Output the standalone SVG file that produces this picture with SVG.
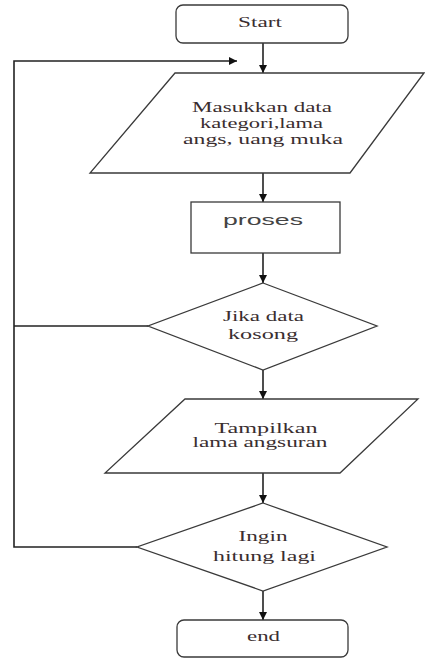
<svg xmlns="http://www.w3.org/2000/svg" width="425" height="659" viewBox="0 0 425 659">
<style>
.s{fill:#fff;stroke:#3a3a3a;stroke-width:1.3}
.c{fill:none;stroke:#222;stroke-width:1.6}
.t{font-family:'Liberation Serif','DejaVu Serif',serif;font-size:14px;fill:#3a2e30;text-anchor:middle}
.p{font-family:'Liberation Sans','DejaVu Sans',sans-serif;font-size:15px;fill:#444;text-anchor:middle}
</style>
<defs>
<marker id="a" viewBox="0 0 10 10" refX="10" refY="5" markerWidth="8" markerHeight="8" markerUnits="userSpaceOnUse" orient="auto">
<path d="M0,0L10,5L0,10z" fill="#111"/>
</marker>
</defs>
<g id="connectors">
<line class="c" x1="263" y1="43" x2="263" y2="73" marker-end="url(#a)"/>
<line class="c" x1="263" y1="173" x2="263" y2="202" marker-end="url(#a)"/>
<line class="c" x1="263" y1="253" x2="263" y2="283" marker-end="url(#a)"/>
<line class="c" x1="263" y1="370" x2="263" y2="399" marker-end="url(#a)"/>
<line class="c" x1="263" y1="473" x2="263" y2="503" marker-end="url(#a)"/>
<line class="c" x1="263" y1="591" x2="263" y2="620" marker-end="url(#a)"/>
<polyline class="c" points="137,547 14,547 14,61 237,61" marker-end="url(#a)"/>
<line class="c" x1="148" y1="326" x2="14" y2="326"/>
</g>
<g id="start">
<rect class="s" x="176" y="5" width="172" height="38" rx="7"/>
<text class="t" x="260" y="27" textLength="44" lengthAdjust="spacingAndGlyphs">Start</text>
</g>
<g id="input">
<polygon class="s" points="175,73 424,73 350,173 90,173"/>
<text class="t" x="262" y="112" textLength="140" lengthAdjust="spacingAndGlyphs">Masukkan data</text>
<text class="t" x="261.5" y="128" textLength="123" lengthAdjust="spacingAndGlyphs">kategori,lama</text>
<text class="t" x="263" y="144" textLength="160" lengthAdjust="spacingAndGlyphs">angs, uang muka</text>
</g>
<g id="proses">
<rect class="s" x="191" y="202" width="149" height="51"/>
<text class="p" x="263" y="225" textLength="80" lengthAdjust="spacingAndGlyphs">proses</text>
</g>
<g id="cek">
<polygon class="s" points="263,283 377,326 263,370 148,326"/>
<text class="t" x="263.5" y="321" textLength="81" lengthAdjust="spacingAndGlyphs">Jika data</text>
<text class="t" x="263" y="339" textLength="70" lengthAdjust="spacingAndGlyphs">kosong</text>
</g>
<g id="tampil">
<polygon class="s" points="185,399 418,399 340,473 105,473"/>
<text class="t" x="266" y="433" textLength="103" lengthAdjust="spacingAndGlyphs">Tampilkan</text>
<text class="t" x="260" y="447" textLength="135" lengthAdjust="spacingAndGlyphs">lama angsuran</text>
</g>
<g id="ulang">
<polygon class="s" points="263,503 387,547 263,591 137,547"/>
<text class="t" x="263" y="541" textLength="49" lengthAdjust="spacingAndGlyphs">Ingin</text>
<text class="t" x="264.5" y="561" textLength="103" lengthAdjust="spacingAndGlyphs">hitung lagi</text>
</g>
<g id="end">
<rect class="s" x="177" y="620" width="171" height="37" rx="7"/>
<text class="t" x="263.5" y="641" textLength="33" lengthAdjust="spacingAndGlyphs">end</text>
</g>
</svg>
